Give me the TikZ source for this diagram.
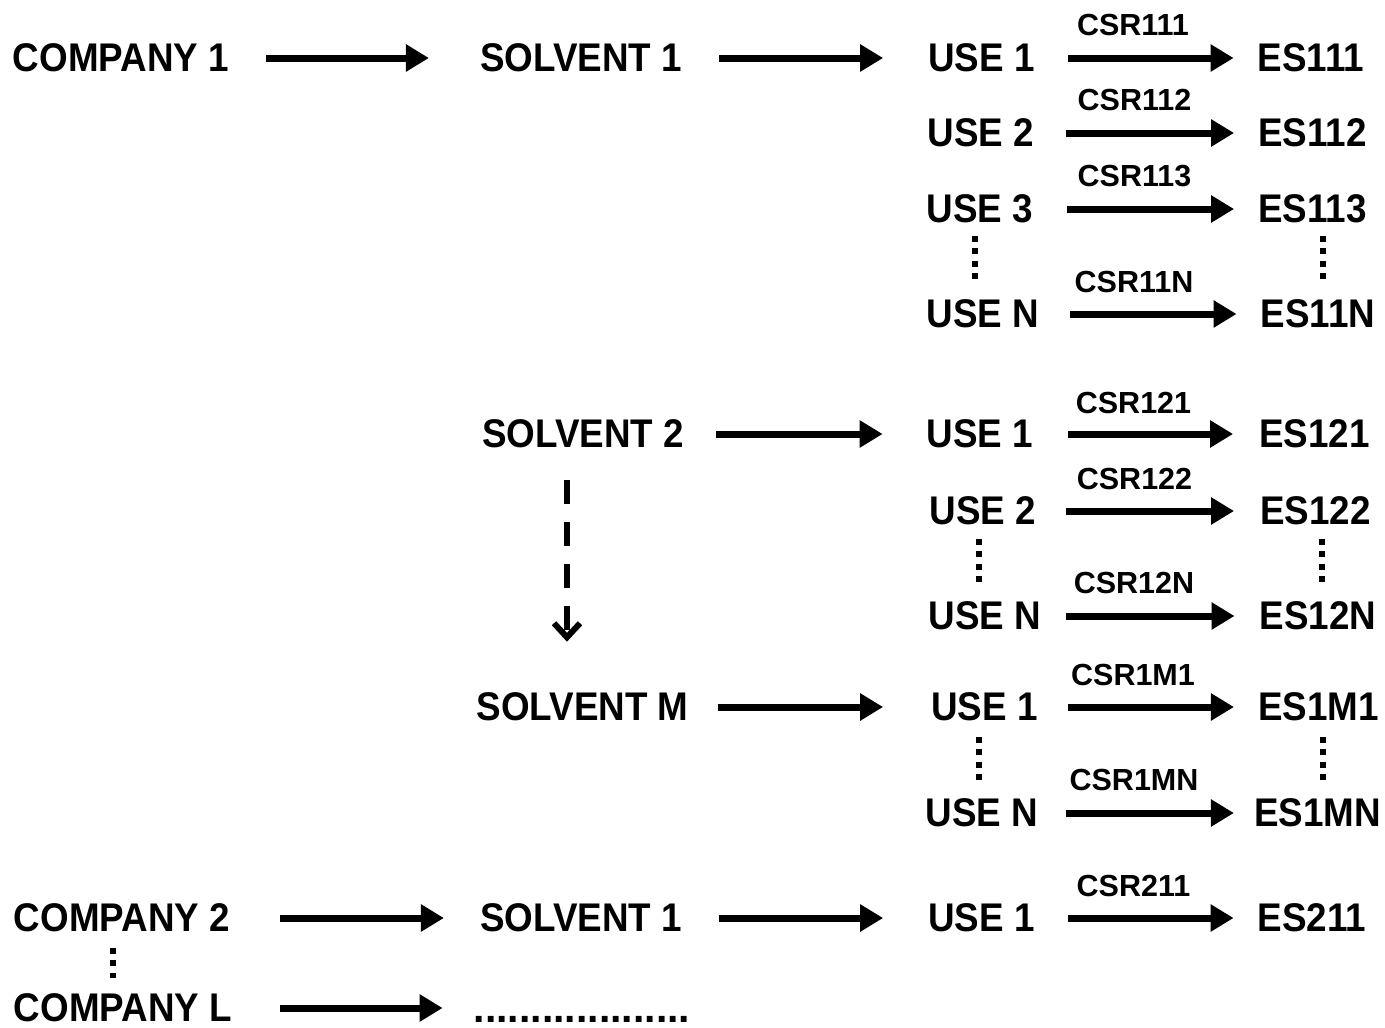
\documentclass[tikz,border=0pt]{standalone}
\usepackage{fontspec}
\usetikzlibrary{arrows.meta}
\newfontfamily\labfont{Liberation Sans}[FakeStretch=0.92]
\newfontfamily\csrfont{Liberation Sans}
\tikzset{
  lab/.style={font=\labfont\bfseries\fontsize{40}{40}\selectfont, inner sep=0pt},
  csr/.style={font=\csrfont\bfseries\fontsize{30.5}{30.5}\selectfont, inner sep=0pt},
  dotsnode/.style={font=\csrfont\bfseries\fontsize{41}{41}\selectfont, inner sep=0pt},
  arr/.style={line width=7pt, -{Triangle[length=23pt,width=26pt]}},
  darr/.style={line width=6pt, dash pattern=on 24pt off 18pt, -{Straight Barb[length=14pt,width=26pt,line width=6pt]}},
  vdots/.style={line width=6pt, dash pattern=on 6pt off 6.3pt},
}
\newcommand\harr[4]{\draw[arr, shorten <=#3pt, shorten >=#4pt] (#1.east) -- (#2.west);}
\begin{document}
\begin{tikzpicture}[x=1pt,y=-1pt]
\useasboundingbox (0,0) rectangle (1385,1028);
% company 1, solvent 1
\node[lab] (c1) at (121,58) {COMPANY 1};
\node[lab] (s11) at (581,58) {SOLVENT 1};
\node[lab] (u111) at (981.5,58) {USE 1};
\node[lab] (e111) at (1311,58) {ES111};
\node[csr] (l111) at (1133,25) {CSR111};
\node[lab] (u112) at (981,133) {USE 2};
\node[lab] (e112) at (1312.5,133) {ES112};
\node[csr] (l112) at (1134.5,100) {CSR112};
\node[lab] (u113) at (980,209) {USE 3};
\node[lab] (e113) at (1312.5,209) {ES113};
\node[csr] (l113) at (1134.5,176) {CSR113};
\node[lab] (u11N) at (983,314) {USE N};
\node[lab] (e11N) at (1318,314) {ES11N};
\node[csr] (l11N) at (1134,282) {CSR11N};
\harr{c1}{s11}{37}{51}
\harr{s11}{u111}{37}{45}
\harr{u111}{e111}{33}{24}
\harr{u112}{e112}{32}{24}
\harr{u113}{e113}{34}{24}
\harr{u11N}{e11N}{31}{24}
\draw[vdots] (975,236) -- (975,280);
\draw[vdots] (1323,236) -- (1323,280);
% solvent 2
\node[lab] (s12) at (583,434) {SOLVENT 2};
\node[lab] (u121) at (980,434) {USE 1};
\node[lab] (e121) at (1314.5,434) {ES121};
\node[csr] (l121) at (1133.5,403) {CSR121};
\node[lab] (u122) at (983,511) {USE 2};
\node[lab] (e122) at (1315.5,511) {ES122};
\node[csr] (l122) at (1134.5,479) {CSR122};
\node[lab] (u12N) at (985,616) {USE N};
\node[lab] (e12N) at (1318,616) {ES12N};
\node[csr] (l12N) at (1134,583) {CSR12N};
\harr{s12}{u121}{32}{44}
\harr{u121}{e121}{35}{26}
\harr{u122}{e122}{30}{26}
\harr{u12N}{e12N}{25}{25}
\draw[vdots] (979,539) -- (979,583);
\draw[vdots] (1322,539) -- (1322,583);
% solvent M
\node[lab] (s1M) at (582.5,707) {SOLVENT M};
\node[lab] (u1M1) at (984.5,707) {USE 1};
\node[lab] (e1M1) at (1318.5,707) {ES1M1};
\node[csr] (l1M1) at (1133,675) {CSR1M1};
\node[lab] (u1MN) at (982,813) {USE N};
\node[lab] (e1MN) at (1317.5,813) {ES1MN};
\node[csr] (l1MN) at (1134,780) {CSR1MN};
\harr{s1M}{u1M1}{29}{48}
\harr{u1M1}{e1M1}{30}{24}
\harr{u1MN}{e1MN}{28}{20}
\draw[vdots] (979,737) -- (979,781);
\draw[vdots] (1323,737) -- (1323,781);
\draw[darr, shorten <=32pt, shorten >=51pt] ([xshift=-16pt]s12.south) -- ([xshift=-15.5pt]s1M.north);
% company 2
\node[lab] (c2) at (122,918) {COMPANY 2};
\node[lab] (s21) at (581,918) {SOLVENT 1};
\node[lab] (u211) at (981.5,918) {USE 1};
\node[lab] (e211) at (1312,918) {ES211};
\node[csr] (l211) at (1133.5,886) {CSR211};
\harr{c2}{s21}{50}{36}
\harr{s21}{u211}{37}{45}
\harr{u211}{e211}{33}{24}
\draw[vdots] (113,948) -- (113,978);
% company L
\node[lab] (cL) at (123,1008) {COMPANY L};
\node[dotsnode] (dd) at (582,1019) {...................};
\draw[arr, shorten <=48pt, shorten >=31pt] (cL.east) -- (cL.east -| dd.west);
\end{tikzpicture}
\end{document}
